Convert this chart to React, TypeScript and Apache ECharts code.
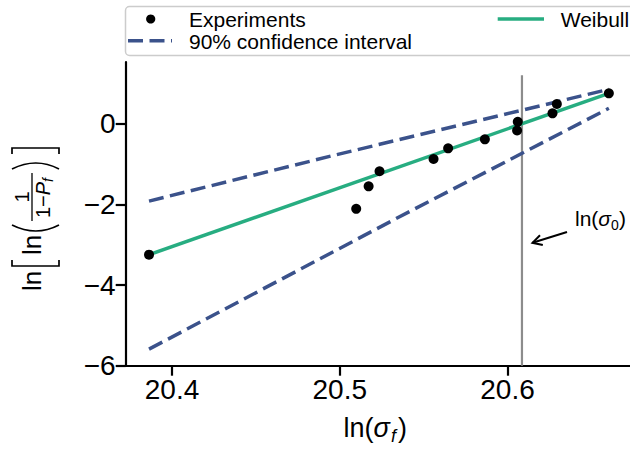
import React, { useEffect, useRef } from "react";
import * as echarts from "echarts";

// ---- data ----
const expX = [20.3863, 20.5098, 20.5172, 20.5237, 20.5559, 20.5646, 20.5865, 20.6057, 20.6061, 20.6268, 20.6294, 20.6604];
const expY = [-3.249, -2.112, -1.554, -1.18, -0.877, -0.612, -0.389, -0.171, 0.045, 0.255, 0.486, 0.751];
const weibullX = [20.3863, 20.6604];
const weibullY = [-3.249, 0.751];
const ciUpperX = [20.3863, 20.4971, 20.6604];
const ciUpperY = [-1.92, -0.78, 0.85];
const ciLowerX = [20.3863, 20.5339, 20.6604];
const ciLowerY = [-5.59, -2.347, 0.379];
const lnSigma0 = 20.6086;
const lnSigma0Span = [-6, 1.2];
const xTicks = [20.4, 20.5, 20.6];
const yTicks = [-6, -4, -2, 0];
const xRange = [20.3724, 20.673];
const yRange = [-6, 1.527];

const FONT = "Liberation Sans, Arial, Helvetica, sans-serif";
const BLUE = "#3b528b";
const GREEN = "#27ad81";

const zip = (xs: number[], ys: number[]) => xs.map((x, i) => [x, ys[i]]);

type TOpts = { italic?: boolean; align?: string };
const T = (x: number, y: number, text: string, size: number, o: TOpts = {}) => ({
  type: "text",
  x,
  y,
  silent: true,
  style: {
    text,
    fontSize: size,
    fontFamily: FONT,
    fontStyle: o.italic ? "italic" : "normal",
    fill: "#000",
    textAlign: o.align || "left",
    align: o.align || "left",
    textVerticalAlign: "middle",
    verticalAlign: "middle",
  },
});

export default function App() {
  const ref = useRef<HTMLDivElement>(null);
  useEffect(() => {
    if (!ref.current) return;
    const chart = echarts.init(ref.current, null, { renderer: "svg" });

    const ink = { stroke: "#000", lineWidth: 1.7, fill: null as any };
    const yTitle = {
      type: "group",
      x: 41,
      y: 291,
      rotation: Math.PI / 2,
      children: [
        T(0, -9, "ln", 26),
        { type: "polyline", silent: true, shape: { points: [[31, -29], [25, -29], [25, 18], [31, 18]] }, style: ink },
        T(36, -9, "ln", 26),
        { type: "bezierCurve", silent: true, shape: { x1: 66, y1: -29, cpx1: 54, cpy1: -5, x2: 66, y2: 18 }, style: ink },
        T(94, -19.5, "1", 20, { align: "center" }),
        { type: "line", silent: true, shape: { x1: 70, y1: -9, x2: 118, y2: -9 }, style: { stroke: "#000", lineWidth: 1.3 } },
        T(73, 1.5, "1\u2212", 20),
        T(95.8, 1.5, "P", 20, { italic: true }),
        T(109, 6.5, "f", 14, { italic: true }),
        { type: "bezierCurve", silent: true, shape: { x1: 122, y1: -29, cpx1: 134, cpy1: -5, x2: 122, y2: 18 }, style: ink },
        { type: "polyline", silent: true, shape: { points: [[137, -29], [143, -29], [143, 18], [137, 18]] }, style: ink },
      ],
    };

    const xTitle = {
      type: "group",
      children: [
        T(343.6, 428, "ln(", 27),
        T(373.6, 428, "\u03c3", 27, { italic: true }),
        T(391, 436, "f", 18, { italic: true }),
        T(398, 428, ")", 27),
      ],
    };

    const annotation = {
      type: "group",
      children: [
        T(575, 218, "ln(", 21),
        T(598.3, 218, "\u03c3", 21, { italic: true }),
        T(611, 225, "0", 14),
        T(619, 218, ")", 21),
        { type: "line", silent: true, shape: { x1: 567, y1: 232, x2: 532.5, y2: 242.8 }, style: { stroke: "#000", lineWidth: 2 } },
        { type: "polyline", silent: true, shape: { points: [[540, 235.2], [532.5, 242.8], [542.8, 245]] }, style: { stroke: "#000", lineWidth: 2, fill: null } },
      ],
    };

    const legend = {
      type: "group",
      children: [
        { type: "rect", silent: true, shape: { x: 125.5, y: 6.5, width: 520, height: 49, r: 4 }, style: { fill: "rgba(255,255,255,0.85)", stroke: "#cccccc", lineWidth: 1.5 } },
        { type: "circle", silent: true, shape: { cx: 150.7, cy: 19, r: 4.6 }, style: { fill: "#000" } },
        T(189, 19.5, "Experiments", 21),
        { type: "line", silent: true, shape: { x1: 128, y1: 40.7, x2: 172, y2: 40.7 }, style: { stroke: BLUE, lineWidth: 3.5, lineDash: [15, 6.5] } },
        T(189, 41, "90% confidence interval", 21),
        { type: "line", silent: true, shape: { x1: 497.7, y1: 19, x2: 544, y2: 19 }, style: { stroke: GREEN, lineWidth: 3.5 } },
        T(560.7, 19.5, "Weibull", 21),
      ],
    };

    const lineSeries = (name: string, data: number[][], color: string, width: number, dashed: boolean, z: number) => ({
      name,
      type: "line",
      data,
      symbol: "none",
      showSymbol: false,
      silent: true,
      z,
      lineStyle: { color, width, type: dashed ? [15, 6.5] : "solid", cap: "butt" },
    });

    chart.setOption({
      animation: false,
      backgroundColor: "#ffffff",
      textStyle: { fontFamily: FONT },
      grid: { left: 125.7, right: 0, top: 62, bottom: 86.3, containLabel: false, outerBoundsMode: "none" },
      xAxis: {
        type: "value",
        min: xRange[0],
        max: xRange[1],
        axisLine: { show: true, onZero: false, lineStyle: { color: "#000", width: 2.2 } },
        axisTick: { show: true, length: 10, customValues: xTicks, lineStyle: { color: "#000", width: 2.2 } },
        axisLabel: {
          customValues: xTicks,
          fontSize: 28,
          color: "#000",
          fontFamily: FONT,
          margin: 10,
          formatter: (v: number) => v.toFixed(1),
        },
        splitLine: { show: false },
      },
      yAxis: {
        type: "value",
        min: yRange[0],
        max: yRange[1],
        axisLine: { show: true, onZero: false, lineStyle: { color: "#000", width: 2.2 } },
        axisTick: { show: true, length: 10, customValues: yTicks, lineStyle: { color: "#000", width: 2.2 } },
        axisLabel: {
          customValues: yTicks,
          fontSize: 28,
          color: "#000",
          fontFamily: FONT,
          margin: 10,
          formatter: (v: number) => String(v).replace("-", "\u2212"),
        },
        splitLine: { show: false },
      },
      series: [
        lineSeries("ln(σ0)", [[lnSigma0, lnSigma0Span[0]], [lnSigma0, lnSigma0Span[1]]], "#8c8c8c", 2.2, false, 1),
        lineSeries("90% confidence interval (upper)", zip(ciUpperX, ciUpperY), BLUE, 3.5, true, 2),
        lineSeries("90% confidence interval (lower)", zip(ciLowerX, ciLowerY), BLUE, 3.5, true, 2),
        lineSeries("Weibull", zip(weibullX, weibullY), GREEN, 3.5, false, 3),
        {
          name: "Experiments",
          type: "scatter",
          data: zip(expX, expY),
          symbol: "circle",
          symbolSize: 10,
          silent: true,
          z: 4,
          itemStyle: { color: "#000", opacity: 1 },
        },
      ],
      graphic: { elements: [legend, yTitle, xTitle, annotation] },
    });

    return () => chart.dispose();
  }, []);

  return (
    <div
      ref={ref}
      style={{ position: "fixed", left: 0, top: 0, width: 630, height: 452, background: "#fff" }}
    />
  );
}
